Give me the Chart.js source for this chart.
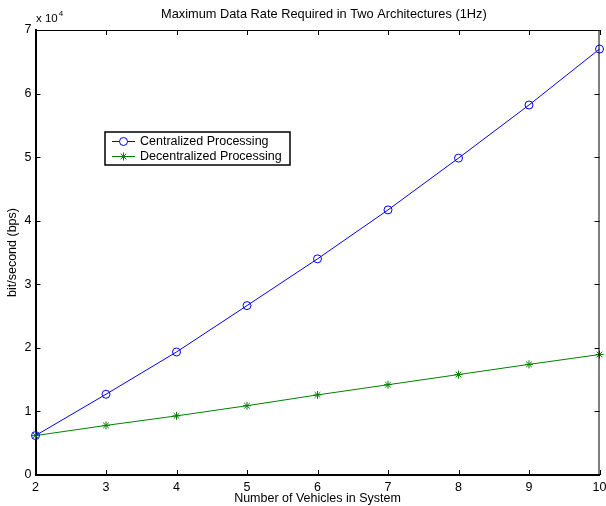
<!DOCTYPE html>
<html>
<head>
<meta charset="utf-8">
<script src="https://cdn.jsdelivr.net/npm/chart.js@4/dist/chart.umd.min.js"></script>
<style>
html,body{margin:0;padding:0;background:#fff;}
#wrap{width:606px;height:506px;}
</style>
</head>
<body>
<div id="wrap"><canvas id="c" width="606" height="506"></canvas></div>
<script>
const vehicles = [2, 3, 4, 5, 6, 7, 8, 9, 10];
const centralized = [6200, 12700, 19350, 26650, 34000, 41700, 49850, 58200, 67000];
const decentralized = [6200, 7800, 9300, 10900, 12600, 14200, 15800, 17400, 18950];
const seriesNames = ['Centralized Processing', 'Decentralized Processing'];
const titleText = 'Maximum Data Rate Required in Two Architectures (1Hz)';
const xTitle = 'Number of Vehicles in System';
const yTitle = 'bit/second (bps)';
const yTickValues = [0, 10000, 20000, 30000, 40000, 50000, 60000, 70000];
const xTickValues = [2, 3, 4, 5, 6, 7, 8, 9, 10];

const FONT = "'Liberation Sans', Arial, Helvetica, sans-serif";
const FS = 12.5;

const decor = {
  id: 'decor',
  afterDraw(chart) {
    const ctx = chart.ctx;
    const a = chart.chartArea;
    const xs = chart.scales.x, ys = chart.scales.y;
    ctx.save();
    // top and right border
    ctx.strokeStyle = '#000';
    ctx.lineWidth = 1;
    ctx.beginPath();
    ctx.moveTo(a.left, a.top + 0.5); ctx.lineTo(a.right, a.top + 0.5);
    ctx.moveTo(a.right - 0.5, a.top); ctx.lineTo(a.right - 0.5, a.bottom);
    ctx.stroke();
    // inward ticks
    const tl = 5;
    ctx.beginPath();
    xTickValues.forEach(v => {
      const px = Math.round(xs.getPixelForValue(v)) + 0.5;
      ctx.moveTo(px, a.bottom); ctx.lineTo(px, a.bottom - tl);
      ctx.moveTo(px, a.top); ctx.lineTo(px, a.top + tl);
    });
    yTickValues.forEach(v => {
      const py = Math.round(ys.getPixelForValue(v)) + 0.5;
      ctx.moveTo(a.left, py); ctx.lineTo(a.left + tl, py);
      ctx.moveTo(a.right, py); ctx.lineTo(a.right - tl, py);
    });
    ctx.stroke();
    // title
    ctx.fillStyle = '#000';
    ctx.font = '12.8px ' + FONT;
    ctx.textAlign = 'left';
    ctx.textBaseline = 'middle';
    ctx.fillText(titleText, 161, 14);
    // exponent
    ctx.font = '11.5px ' + FONT;
    ctx.fillText('x 10', 36, 19);
    const w = ctx.measureText('x 10').width;
    ctx.font = '8px ' + FONT;
    ctx.fillText('4', 36 + w + 1, 14);
    // legend
    const lx = 105, ly = 132, lw = 185, lh = 33;
    ctx.fillStyle = '#fff';
    ctx.fillRect(lx, ly, lw, lh);
    ctx.strokeStyle = '#000';
    ctx.lineWidth = 1.5;
    ctx.strokeRect(lx, ly, lw, lh);
    chart.data.datasets.forEach((ds, i) => {
      const cy = ly + 9.5 + i * 15;
      ctx.strokeStyle = ds.borderColor;
      ctx.lineWidth = 1;
      ctx.beginPath();
      ctx.moveTo(lx + 7, cy); ctx.lineTo(lx + 30, cy);
      ctx.stroke();
      Chart.helpers.drawPoint(ctx, {pointStyle: ds.pointStyle, radius: 4, borderWidth: 1, rotation: 0}, lx + 18.5, cy);
      ctx.fillStyle = '#000';
      ctx.font = FS + 'px ' + FONT;
      ctx.textAlign = 'left';
      ctx.textBaseline = 'middle';
      ctx.fillText(ds.label, lx + 35, cy + 0.5);
    });
    ctx.restore();
  }
};

new Chart(document.getElementById('c'), {
  type: 'line',
  data: {
    datasets: [
      {
        label: seriesNames[0],
        data: vehicles.map((v, i) => ({x: v, y: centralized[i]})),
        borderColor: '#0000ff',
        backgroundColor: 'rgba(0,0,0,0)',
        pointStyle: 'circle',
        pointRadius: 4,
        pointBorderWidth: 1,
        borderWidth: 1,
        tension: 0
      },
      {
        label: seriesNames[1],
        data: vehicles.map((v, i) => ({x: v, y: decentralized[i]})),
        borderColor: '#008000',
        backgroundColor: 'rgba(0,0,0,0)',
        pointStyle: 'star',
        pointRadius: 4,
        pointBorderWidth: 1,
        borderWidth: 1,
        tension: 0
      }
    ]
  },
  options: {
    responsive: false,
    animation: false,
    clip: false,
    layout: {padding: {top: 30, right: 6.5, left: 0, bottom: 0}},
    plugins: {legend: {display: false}, title: {display: false}, tooltip: {enabled: false}},
    scales: {
      x: {
        type: 'linear', min: 2, max: 10,
        afterFit(s) { s.height = 31; s.paddingRight = 0; s.paddingLeft = 0; },
        afterBuildTicks(s) { s.ticks = xTickValues.map(v => ({value: v})); },
        grid: {display: false, drawTicks: false},
        border: {display: true, color: '#000', width: 2},
        ticks: {color: '#000', font: {family: FONT, size: FS}, padding: 5, maxRotation: 0, autoSkip: false},
        title: {display: true, text: xTitle, color: '#000', font: {family: FONT, size: FS}, padding: {top: -1, bottom: 0}}
      },
      y: {
        type: 'linear', min: 0, max: 70000,
        afterFit(s) { s.width = 35.5; s.paddingTop = 0; s.paddingBottom = 0; },
        afterBuildTicks(s) { s.ticks = yTickValues.map(v => ({value: v})); },
        grid: {display: false, drawTicks: false},
        border: {display: true, color: '#000', width: 2},
        ticks: {color: '#000', font: {family: FONT, size: FS}, padding: 4, callback: v => String(v / 10000)},
        title: {display: true, text: yTitle, color: '#000', font: {family: FONT, size: FS}, padding: {top: 5, bottom: 0}}
      }
    }
  },
  plugins: [decor]
});
</script>
</body>
</html>
